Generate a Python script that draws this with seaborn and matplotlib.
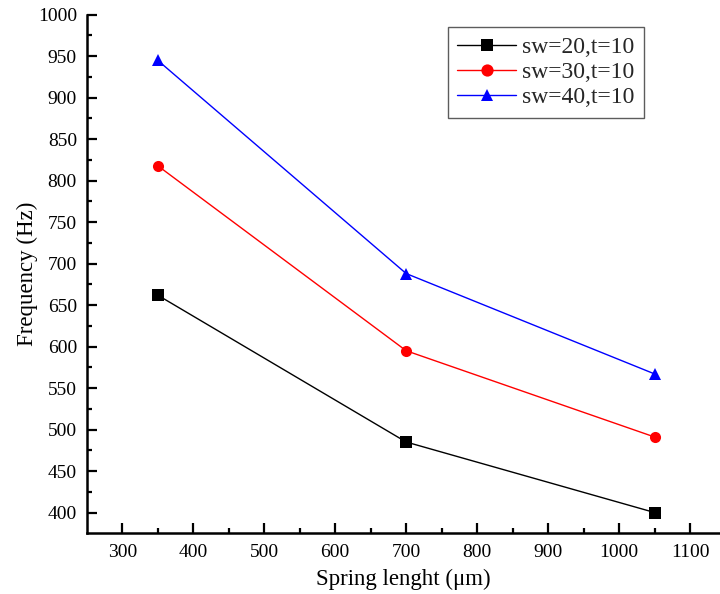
import matplotlib
matplotlib.use("Agg")
import matplotlib.pyplot as plt
import seaborn as sns
import pandas as pd

lengths = [350, 700, 1050]
freq_sw20 = [662, 485, 400]
freq_sw30 = [818, 595, 491]
freq_sw40 = [945, 688, 567]
series_names = ["sw=20,t=10", "sw=30,t=10", "sw=40,t=10"]
x_ticks = [300, 400, 500, 600, 700, 800, 900, 1000, 1100]
y_ticks = [400, 450, 500, 550, 600, 650, 700, 750, 800, 850, 900, 950, 1000]

rows = []
for name, vals in zip(series_names, [freq_sw20, freq_sw30, freq_sw40]):
    for x, v in zip(lengths, vals):
        rows.append({"length": x, "freq": v, "series": name})
df = pd.DataFrame(rows)

sns.set_theme(style="ticks")
plt.rcParams['font.family'] = ['Liberation Serif', 'DejaVu Serif']

fig = plt.figure(figsize=(7.2, 5.94), dpi=100)
ax = fig.add_axes([0.1204, 0.1022, 0.8796, 0.8731])

palette = {"sw=20,t=10": "black", "sw=30,t=10": "red", "sw=40,t=10": "blue"}
markers = {"sw=20,t=10": "s", "sw=30,t=10": "o", "sw=40,t=10": "^"}
sns.lineplot(data=df, x="length", y="freq", hue="series", style="series",
             palette=palette, markers=markers, dashes=False, ax=ax,
             linewidth=1.0, markersize=8, markeredgewidth=0)

ax.set_xlim(250, 1142)
ax.set_ylim(375, 1000)
ax.set_xticks(x_ticks)
ax.set_yticks(y_ticks)
ax.set_xticks([350, 450, 550, 650, 750, 850, 950, 1050], minor=True)
ax.set_yticks([425, 475, 525, 575, 625, 675, 725, 775, 825, 875, 925, 975], minor=True)
ax.tick_params(which='major', direction='in', length=7, width=1.6, labelsize=14, colors='black', pad=8)
ax.tick_params(axis='y', which='major', pad=7)
ax.tick_params(which='minor', direction='in', length=3.6, width=1.6, colors='black')
for s in ['top', 'right']:
    ax.spines[s].set_visible(False)
for s in ['left', 'bottom']:
    ax.spines[s].set_linewidth(1.8)
    ax.spines[s].set_color('black')

ax.set_xlabel("Spring lenght (μm)", fontsize=16.5, color='black', labelpad=5)
ax.set_ylabel("Frequency (Hz)", fontsize=16.5, color='black', labelpad=0)

leg = ax.legend(title=None, loc='upper right', bbox_to_anchor=(0.880, 0.976),
                borderaxespad=0, fontsize=17, frameon=True, fancybox=False,
                edgecolor='#333333', handlelength=2.5, borderpad=0.4,
                labelspacing=0.15, handletextpad=0.25, markerscale=1.1)
leg.get_frame().set_linewidth(1.0)

fig.savefig("out.png", dpi=100)
